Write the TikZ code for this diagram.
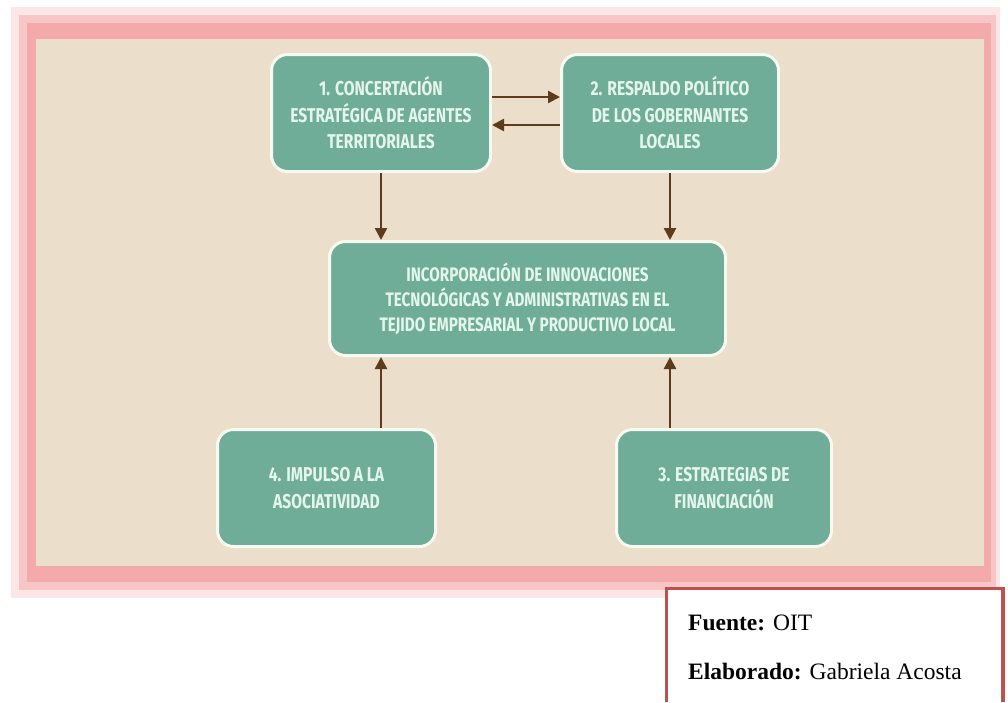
\documentclass[tikz,border=0pt]{standalone}
\usepackage{fontspec}
\setmainfont{Liberation Serif}
\newfontfamily\bxfont[FakeStretch=0.78]{Fira Sans}
\usetikzlibrary{arrows.meta}
\definecolor{beige}{RGB}{235,222,202}
\definecolor{pinkA}{RGB}{244,170,170}
\definecolor{pinkB}{RGB}{248,198,198}
\definecolor{pinkC}{RGB}{252,230,230}
\definecolor{teal}{RGB}{112,173,152}
\definecolor{cream}{RGB}{246,250,240}
\definecolor{boxtxt}{RGB}{228,246,236}
\definecolor{arrowc}{RGB}{92,60,26}
\definecolor{redline}{RGB}{192,80,77}
\tikzset{
  tealbox/.style={draw=cream, line width=3pt, fill=teal, rounded corners=16pt,
    align=center, text=boxtxt, inner sep=0pt,
    font=\bxfont\bfseries\fontsize{20}{26.5}\selectfont},
  arr/.style={draw=arrowc, line width=2.5pt, -{Triangle[length=12pt,width=12pt]}},
  note/.style={anchor=base west, font=\fontsize{23.5}{28}\selectfont, inner sep=0pt}
}
\begin{document}
\begin{tikzpicture}[x=1pt,y=-1pt]
\useasboundingbox (0,0) rectangle (1008,702);
\fill[white] (0,0) rectangle (1008,702);
% frame glow
\fill[pinkC] (11,7) rectangle (1000,598);
\fill[pinkB] (19,15) rectangle (996,590);
\fill[pinkA] (27,23) rectangle (991,582);
\fill[beige] (36,39) rectangle (984,566);
% boxes
\node[tealbox, minimum width=219pt, minimum height=117pt] (b1) at (381,113)
  {1. CONCERTACIÓN\\ESTRATÉGICA DE AGENTES\\TERRITORIALES};
\node[tealbox, minimum width=217pt, minimum height=117pt] (b2) at (670,113)
  {2. RESPALDO POLÍTICO\\DE LOS GOBERNANTES\\LOCALES};
\node[tealbox, minimum width=396pt, minimum height=114pt,
  font=\bxfont\bfseries\fontsize{19.5}{25}\selectfont] (c) at (527.5,298.5)
  {INCORPORACIÓN DE INNOVACIONES\\TECNOLÓGICAS Y ADMINISTRATIVAS EN EL\\TEJIDO EMPRESARIAL Y PRODUCTIVO LOCAL};
\node[tealbox, minimum width=218pt, minimum height=117pt] (b4) at (326.5,488)
  {4. IMPULSO A LA\\ASOCIATIVIDAD};
\node[tealbox, minimum width=215pt, minimum height=117pt] (b3) at (724,488)
  {3. ESTRATEGIAS DE\\FINANCIACIÓN};
% arrows
\draw[arr] ([yshift=16pt]b1.east) -- ([yshift=16pt]b2.west);
\draw[arr] ([yshift=-12pt]b2.west) -- ([yshift=-12pt]b1.east);
\draw[arr] (b1.south) -- (b1.south |- c.north);
\draw[arr] (b2.south) -- (b2.south |- c.north);
\draw[arr] (b4.north -| b1.south) -- (c.south -| b1.south);
\draw[arr] (b3.north -| b2.south) -- (c.south -| b2.south);
% note box
\coordinate (nbl) at (666.5,702);
\coordinate (ntl) at (666.5,588.5);
\coordinate (ntr) at (1003,588.5);
\coordinate (nbr) at (1003,702);
\fill[white] (nbl) -- (ntl) -- (ntr) -- (nbr) -- cycle;
\draw[redline, line width=3.5pt] (nbl) -- (ntl) -- (ntr) -- (nbr);
\node[note] (f1) at (688,630) {\textbf{Fuente:} OIT};
\node[note] (f2) at (688,679) {\textbf{Elaborado:} Gabriela Acosta};
\end{tikzpicture}
\end{document}
